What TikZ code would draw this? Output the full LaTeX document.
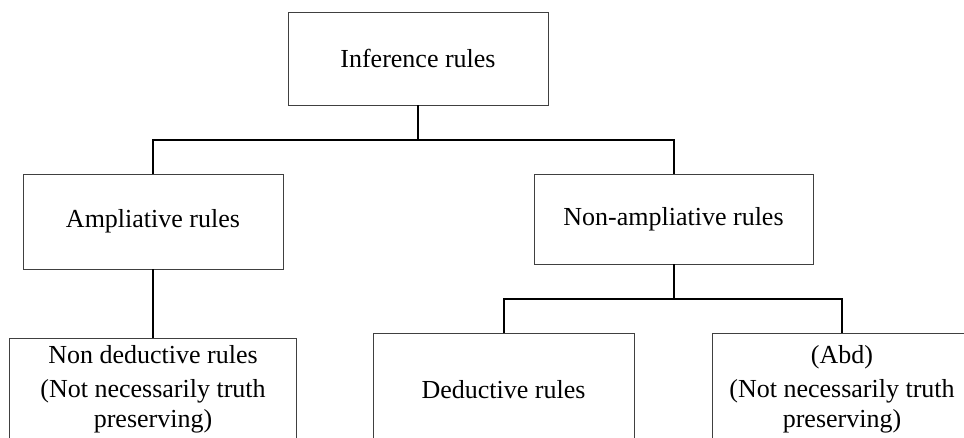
\documentclass[tikz,border=0pt]{standalone}
\usepackage{fontspec}
\setmainfont{Liberation Serif}
\usepackage{tikz}

\begin{document}
\begin{tikzpicture}[x=1pt,y=-1pt,rule/.style={draw=black!75,line width=0.9pt,align=center,inner sep=0pt,font=\fontsize{26}{30}\selectfont},link/.style={line width=2pt}] %
    \useasboundingbox (0,0) rectangle (964,437) ; %
    \clip (0,0) rectangle (964,437) ; %
    \node[rule,minimum width=260,minimum height=93] (infer) at (418,58.5) {Inference rules} ; %
    \node[rule,minimum width=260,minimum height=95] (ampl) at (153,221.5) {Ampliative rules} ; %
    \node[rule,minimum width=279,minimum height=90] (nonampl) at (673.5,219) {Non-ampliative rules} ; %
    \node[rule,minimum width=287,minimum height=102] (nonded) at (153,389) {Non deductive rules\\[4pt](Not necessarily truth\\preserving)} ;
    \node[rule,minimum width=261,minimum height=114] (ded) at (503.5,390) {Deductive rules} ;
    \node[rule,minimum width=260,minimum height=112] (abd) at (842,389) {(Abd)\\[4pt](Not necessarily truth\\preserving)} ;
    \coordinate (split1) at (418,140) ;
    \coordinate (split2) at (673.5,299) ;
    \draw[link] (infer.south) -- (split1) -| (ampl.north) ; %
    \draw[link] (split1) -| (nonampl.north) ;
    \draw[link] (ampl.south) -- (nonded.north) ;
    \draw[link] (nonampl.south) -- (split2) -| (ded.north) ;
    \draw[link] (split2) -| (abd.north) ;
  \end{tikzpicture}
\end{document}
